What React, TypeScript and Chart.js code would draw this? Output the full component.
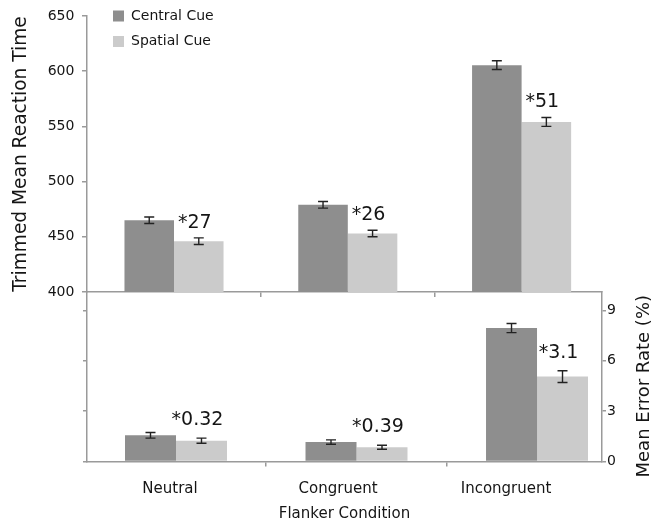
import React, { useEffect, useRef } from 'react';
import { Chart, registerables } from 'chart.js';

Chart.register(...registerables);

// ---------- data ----------
const categories = ['Neutral', 'Congruent', 'Incongruent'];
const seriesNames = ['Central Cue', 'Spatial Cue'];

const rtCentral = [465, 479, 605.5];
const rtSpatial = [446, 453, 554];
const rtCentralErr = [3, 3, 4];
const rtSpatialErr = [3, 3, 4];
const rtDiffLabels = ['*27', '*26', '*51'];
const rtTicks = [400, 450, 500, 550, 600, 650];

const erCentral = [1.56, 1.16, 7.95];
const erSpatial = [1.24, 0.85, 5.06];
const erCentralErr = [0.17, 0.13, 0.27];
const erSpatialErr = [0.15, 0.12, 0.35];
const erDiffLabels = ['*0.32', '*0.39', '*3.1'];
const erTicks = [0, 3, 6, 9];

// ---------- styles ----------
const DARK = '#8e8e8e';
const LIGHT = '#cbcbcb';
const AXIS = '#9a9a9a';
const TEXT = '#151515';
const FAMILY = "'DejaVu Sans', sans-serif";

Chart.defaults.font.family = FAMILY;
Chart.defaults.color = TEXT;

const errorBarsPlugin = (id: string, vals: number[][], errs: number[][]) => ({
  id,
  afterDatasetsDraw(chart: any) {
    const ctx = chart.ctx;
    ctx.save();
    ctx.strokeStyle = '#222';
    ctx.lineWidth = 1.4;
    vals.forEach((series, di) => {
      const meta = chart.getDatasetMeta(di);
      const ys = chart.scales[meta.yAxisID];
      series.forEach((v, j) => {
        const el = meta.data[j];
        if (!el) return;
        const x = el.x;
        const yT = ys.getPixelForValue(v + errs[di][j]);
        const yB = ys.getPixelForValue(v - errs[di][j]);
        ctx.beginPath();
        ctx.moveTo(x, yT);
        ctx.lineTo(x, yB);
        ctx.moveTo(x - 5, yT);
        ctx.lineTo(x + 5, yT);
        ctx.moveTo(x - 5, yB);
        ctx.lineTo(x + 5, yB);
        ctx.stroke();
      });
    });
    ctx.restore();
  },
});

const diffLabelsPlugin = (
  id: string,
  labels: string[],
  vals: number[],
  errs: number[],
  dx: number,
  dy: number,
  size: number
) => ({
  id,
  afterDatasetsDraw(chart: any) {
    const ctx = chart.ctx;
    const meta = chart.getDatasetMeta(1);
    const ys = chart.scales[meta.yAxisID];
    ctx.save();
    ctx.font = `${size}px ${FAMILY}`;
    ctx.fillStyle = TEXT;
    ctx.textAlign = 'center';
    ctx.textBaseline = 'alphabetic';
    labels.forEach((t, j) => {
      const el = meta.data[j];
      if (!el) return;
      const x = el.x + dx;
      const yc = ys.getPixelForValue(vals[j] + errs[j]) - dy;
      ctx.fillText(t, x, yc + 0.3645 * size);
    });
    ctx.restore();
  },
});

const legendShiftPlugin = {
  id: 'legendShift',
  beforeDraw(chart: any) {
    const lg = chart.legend;
    if (!lg) return;
    const w = lg.width;
    const h = lg.height;
    lg.left = chart.chartArea.left + 14.5;
    lg.top = chart.chartArea.top - 18.5;
    lg.right = lg.left + w;
    lg.bottom = lg.top + h;
  },
};

const rightTitlePlugin = (text: string) => ({
  id: 'rightTitle',
  afterDraw(chart: any) {
    const ctx = chart.ctx;
    const sc = chart.scales.y;
    const ca = chart.chartArea;
    ctx.save();
    ctx.translate(sc.right - 15.5, (ca.top + ca.bottom) / 2 + 9.5);
    ctx.rotate(-Math.PI / 2);
    ctx.font = `18px ${FAMILY}`;
    ctx.fillStyle = TEXT;
    ctx.textAlign = 'center';
    ctx.textBaseline = 'middle';
    ctx.fillText(text, 0, 0);
    ctx.restore();
  },
});

const toPoints = (arr: number[]) => arr.map((v, i) => ({ x: i, y: v }));
const tickList = (arr: number[]) => (s: any) => {
  s.ticks = arr.map((v) => ({ value: v }));
};

function topConfig(): any {
  return {
    type: 'bar',
    data: {
      datasets: [
        { label: seriesNames[0], data: toPoints(rtCentral), backgroundColor: DARK, borderWidth: 0 },
        { label: seriesNames[1], data: toPoints(rtSpatial), backgroundColor: LIGHT, borderWidth: 0 },
      ],
    },
    options: {
      responsive: false,
      animation: false,
      events: [],
      layout: { padding: { left: 0, top: 16, right: 58, bottom: 0 } },
      datasets: { bar: { categoryPercentage: 0.57, barPercentage: 1 } },
      scales: {
        x: {
          type: 'linear',
          min: -0.5006,
          max: 2.4626,
          offset: false,
          afterBuildTicks: tickList([0.5, 1.5]),
          ticks: { display: false },
          grid: { offset: false, drawOnChartArea: false, tickLength: 5, color: AXIS, lineWidth: 1.5 },
          border: { color: AXIS, width: 1.5 },
          afterFit: (s: any) => {
            s.height = 8;
          },
        },
        y: {
          type: 'linear',
          position: 'left',
          min: 400,
          max: 650,
          afterBuildTicks: tickList(rtTicks),
          ticks: { font: { size: 14 }, color: TEXT, padding: 7.6 },
          grid: { drawOnChartArea: false, tickLength: 5, color: AXIS, lineWidth: 1.5 },
          border: { color: AXIS, width: 1.5 },
          title: {
            display: true,
            text: 'Trimmed Mean Reaction Time',
            font: { size: 18.6 },
            color: TEXT,
            padding: { top: 10.5, bottom: 0 },
          },
          afterFit: (s: any) => {
            s.width = 87;
          },
        },
      },
      plugins: {
        legend: {
          position: 'chartArea',
          align: 'start',
          labels: { boxWidth: 11, boxHeight: 11, padding: 11.5, font: { size: 14 }, color: TEXT },
        },
        tooltip: { enabled: false },
      },
    },
    plugins: [
      legendShiftPlugin,
      errorBarsPlugin('rtErr', [rtCentral, rtSpatial], [rtCentralErr, rtSpatialErr]),
      diffLabelsPlugin('rtDiff', rtDiffLabels, rtSpatial, rtSpatialErr, -4, 17, 19),
    ],
  };
}

function bottomConfig(): any {
  return {
    type: 'bar',
    data: {
      datasets: [
        { label: seriesNames[0], data: toPoints(erCentral), backgroundColor: DARK, borderWidth: 0, yAxisID: 'y' },
        { label: seriesNames[1], data: toPoints(erSpatial), backgroundColor: LIGHT, borderWidth: 0, yAxisID: 'y' },
      ],
    },
    options: {
      responsive: false,
      animation: false,
      events: [],
      layout: { padding: { left: 0, top: 12, right: 0, bottom: 0 } },
      datasets: { bar: { categoryPercentage: 0.565, barPercentage: 1 } },
      scales: {
        x: {
          type: 'linear',
          position: 'bottom',
          weight: 0,
          min: -0.493,
          max: 2.36,
          offset: false,
          afterBuildTicks: tickList([0.5, 1.5]),
          ticks: { display: false },
          grid: { offset: false, drawOnChartArea: false, tickLength: 5, color: AXIS, lineWidth: 1.5 },
          border: { color: AXIS, width: 1.5 },
          afterFit: (s: any) => {
            s.height = 6;
          },
        },
        xLabels: {
          type: 'linear',
          axis: 'x',
          position: 'bottom',
          weight: 1,
          min: -0.494,
          max: 2.571,
          offset: false,
          afterBuildTicks: tickList(categories.map((_, i) => i)),
          ticks: {
            callback: (v: number) => categories[Math.round(v)] ?? '',
            font: { size: 15 },
            color: TEXT,
            padding: 12.5,
            maxRotation: 0,
            autoSkip: false,
          },
          grid: { display: false, drawTicks: false },
          border: { display: false },
          title: {
            display: true,
            text: 'Flanker Condition',
            font: { size: 15 },
            color: TEXT,
            padding: { top: 0, bottom: 1 },
          },
          afterFit: (s: any) => {
            s.height = 56.5;
          },
        },
        yL: {
          type: 'linear',
          position: 'left',
          min: 0,
          max: 10.1,
          afterBuildTicks: tickList(erTicks),
          ticks: { display: false },
          grid: { drawOnChartArea: false, tickLength: 4, color: AXIS, lineWidth: 1.5 },
          border: { color: AXIS, width: 1.5 },
          afterFit: (s: any) => {
            s.width = 87;
          },
        },
        y: {
          type: 'linear',
          position: 'right',
          min: 0,
          max: 10.1,
          afterBuildTicks: tickList(erTicks),
          ticks: { font: { size: 14 }, color: TEXT, padding: 1 },
          grid: { drawOnChartArea: false, tickLength: 4, color: AXIS, lineWidth: 1.5 },
          border: { color: AXIS, width: 1.5 },
          afterFit: (s: any) => {
            s.width = 58;
          },
        },
      },
      plugins: {
        legend: { display: false },
        tooltip: { enabled: false },
      },
    },
    plugins: [
      errorBarsPlugin('erErr', [erCentral, erSpatial], [erCentralErr, erSpatialErr]),
      diffLabelsPlugin('erDiff', erDiffLabels, erSpatial, erSpatialErr, -4, 20, 19),
      rightTitlePlugin('Mean Error Rate (%)'),
    ],
  };
}

export default function App() {
  const topRef = useRef<HTMLCanvasElement>(null);
  const botRef = useRef<HTMLCanvasElement>(null);

  useEffect(() => {
    const top = new Chart(topRef.current as HTMLCanvasElement, topConfig());
    const bot = new Chart(botRef.current as HTMLCanvasElement, bottomConfig());
    return () => {
      top.destroy();
      bot.destroy();
    };
  }, []);

  return (
    <div style={{ position: 'absolute', left: 0, top: 0, width: 660, height: 524, background: '#ffffff' }}>
      <canvas ref={topRef} width={660} height={308} style={{ position: 'absolute', left: 0, top: 0 }} />
      <canvas ref={botRef} width={660} height={244} style={{ position: 'absolute', left: 0, top: 280 }} />
    </div>
  );
}
